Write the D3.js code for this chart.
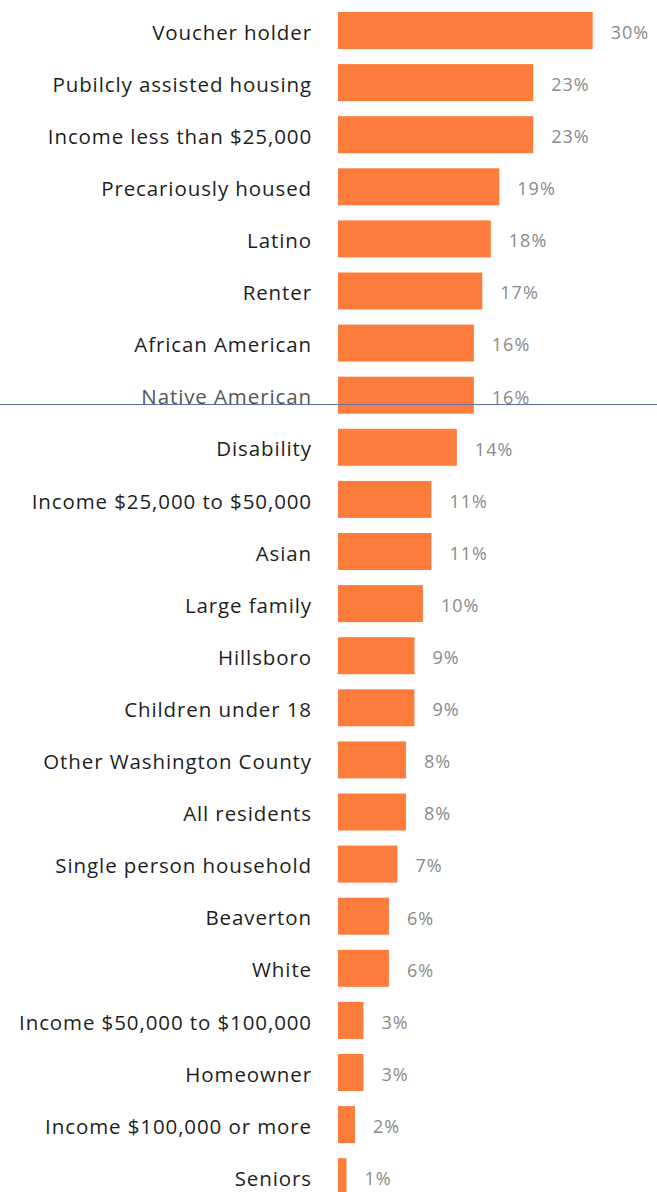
<!DOCTYPE html>
<html>
<head>
<meta charset="utf-8">
<script src="https://cdn.jsdelivr.net/npm/d3@7"></script>
<style>
  body { margin: 0; background: #fff; }
  svg { display: block; }
</style>
</head>
<body>
<div class="chart"></div>
<script>
// categories and values
var categories = [
  "Voucher holder", "Pubilcly assisted housing", "Income less than $25,000",
  "Precariously housed", "Latino", "Renter", "African American",
  "Native American", "Disability", "Income $25,000 to $50,000", "Asian",
  "Large family", "Hillsboro", "Children under 18", "Other Washington County",
  "All residents", "Single person household", "Beaverton", "White",
  "Income $50,000 to $100,000", "Homeowner", "Income $100,000 or more", "Seniors"
];
var values = [30, 23, 23, 19, 18, 17, 16, 16, 14, 11, 11, 10, 9, 9, 8, 8, 7, 6, 6, 3, 3, 2, 1];

var w = 657, h = 1192;

var svg = d3.select(".chart")
  .append("svg")
  .attr("width", w)
  .attr("height", h);

var x = d3.scaleLinear()
  .domain([0, 30])
  .range([338, 592.7]);

var y = d3.scaleBand()
  .domain(categories)
  .range([4.45, 1202.75])
  .paddingInner(0.29)
  .paddingOuter(0.145);

var rows = categories.map(function(c, i) { return { name: c, value: values[i] }; });

svg.selectAll("rect.bar")
  .data(rows)
  .enter()
  .append("rect")
  .attr("class", "bar")
  .attr("x", x(0))
  .attr("y", function(d) { return y(d.name); })
  .attr("width", function(d) { return x(d.value) - x(0); })
  .attr("height", y.bandwidth())
  .attr("fill", "#fd7c3c");

svg.selectAll("text.cat")
  .data(rows)
  .enter()
  .append("text")
  .attr("class", "cat")
  .attr("x", 312)
  .attr("y", function(d) { return y(d.name) + y.bandwidth() / 2 + 2; })
  .attr("dy", "0.35em")
  .attr("text-anchor", "end")
  .attr("font-family", "'Open Sans', sans-serif")
  .attr("font-size", 20.5)
  .attr("letter-spacing", 0.9)
  .attr("fill", function(d) { return d.name === "Native American" ? "#555" : "#1e1e1e"; })
  .text(function(d) { return d.name; });

svg.selectAll("text.val")
  .data(rows)
  .enter()
  .append("text")
  .attr("class", "val")
  .attr("x", function(d) { return x(d.value) + 18; })
  .attr("y", function(d) { return y(d.name) + y.bandwidth() / 2 + 2; })
  .attr("dy", "0.35em")
  .attr("font-family", "'Open Sans', sans-serif")
  .attr("font-size", 18)
  .attr("letter-spacing", 1)
  .attr("fill", "#8a8a8a")
  .text(function(d) { return d.value + "%"; });

// thin blue rule across the page
svg.append("line")
  .attr("x1", 0)
  .attr("x2", w)
  .attr("y1", 404.5)
  .attr("y2", 404.5)
  .attr("stroke", "#5b6ea8")
  .attr("stroke-width", 1);
</script>
</body>
</html>
